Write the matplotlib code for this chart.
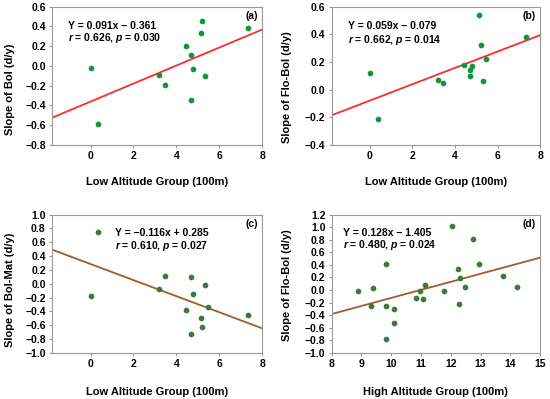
import numpy as np
import matplotlib
matplotlib.use("Agg")
import matplotlib.pyplot as plt

plt.rcParams['font.family'] = ['Liberation Sans', 'DejaVu Sans']
plt.rcParams['font.sans-serif'] = ['Liberation Sans', 'DejaVu Sans']
plt.rcParams['font.weight'] = 'bold'
plt.rcParams['mathtext.fontset'] = 'custom'
plt.rcParams['mathtext.bfit'] = 'Liberation Sans:italic:bold'

# panel (a) low altitude, Bol
a_x = [0.0, 0.37, 3.21, 3.45, 4.45, 4.70, 4.70, 4.79, 5.15, 5.19, 5.34, 7.36]
a_y = [-0.02, -0.59, -0.09, -0.19, 0.20, 0.11, -0.34, -0.03, 0.33, 0.45, -0.10, 0.38]

# panel (b) low altitude, Flo-Bol
b_x = [0.0, 0.36, 3.20, 3.45, 4.44, 4.69, 4.69, 4.80, 5.14, 5.20, 5.31, 5.45, 7.36]
b_y = [0.12, -0.21, 0.07, 0.05, 0.18, 0.14, 0.10, 0.17, 0.54, 0.32, 0.06, 0.22, 0.38]

# panel (c) low altitude, Bol-Mat
c_x = [0.03, 0.36, 3.20, 3.45, 4.45, 4.70, 4.70, 4.80, 5.14, 5.20, 5.33, 5.48, 7.36]
c_y = [-0.17, 0.75, -0.07, 0.11, -0.38, 0.10, -0.72, -0.15, -0.49, -0.63, -0.02, -0.33, -0.45]

# panel (d) high altitude, Flo-Bol
d_x = [8.87, 9.31, 9.38, 9.81, 9.81, 9.81, 10.11, 10.11, 10.83, 10.98, 11.07,
       11.15, 11.76, 12.04, 12.23, 12.30, 12.28, 12.48, 12.73, 12.96, 13.75, 14.22]
d_y = [-0.01, -0.26, 0.03, 0.42, -0.25, -0.77, -0.30, -0.52, -0.13, -0.02, -0.14,
       0.08, -0.02, 1.01, 0.33, 0.19, -0.22, 0.05, 0.81, 0.41, 0.22, 0.05]

fits = [(0.091, -0.361), (0.059, -0.079), (-0.116, 0.285), (0.128, -1.405)]
eqs = ["Y = 0.091x \u2212 0.361", "Y = 0.059x \u2212 0.079",
       "Y = \u22120.116x + 0.285", "Y = 0.128x \u2212 1.405"]
stats = ["$\\bfit{r}$ = 0.626, $\\bfit{p}$ = 0.030", "$\\bfit{r}$ = 0.662, $\\bfit{p}$ = 0.014",
         "$\\bfit{r}$ = 0.610, $\\bfit{p}$ = 0.027", "$\\bfit{r}$ = 0.480, $\\bfit{p}$ = 0.024"]
tags = ["(a)", "(b)", "(c)", "(d)"]
ylabels = ["Slope of Bol (d/y)", "Slope of Flo-Bol (d/y)",
           "Slope of Bol-Mat (d/y)", "Slope of Flo-Bol (d/y)"]
xlabels = ["Low Altitude Group (100m)"] * 3 + ["High Altitude Group (100m)"]

fig = plt.figure(figsize=(5.5, 3.99), dpi=100)
rects = [[0.0945, 0.6366, 0.382, 0.347], [0.603, 0.6366, 0.379, 0.347],
         [0.0945, 0.1153, 0.382, 0.347], [0.603, 0.1153, 0.379, 0.347]]
xlims = [(-1.8, 8), (-1.8, 8), (-1.8, 8), (8, 15)]
ylims = [(-0.8, 0.6), (-0.4, 0.6), (-1.0, 1.0), (-1.0, 1.2)]
xticks = [np.arange(0, 9, 2)] * 3 + [np.arange(8, 16, 1)]
dots = ['#13963a', '#13963a', '#3d7a3a', '#3d7a3a']
lines = ['#ff2a2a', '#ff2a2a', '#a55a2a', '#a55a2a']
txt_pos = [(0.076, 0.86, 0.77), (0.077, 0.86, 0.755), (0.30, 0.87, 0.776), (0.053, 0.87, 0.78)]
ylab_pos = [(-0.2, 0.40), (-0.216, 0.415), (-0.2, 0.455), (-0.216, 0.488)]
data = [(a_x, a_y), (b_x, b_y), (c_x, c_y), (d_x, d_y)]

for i in range(4):
    ax = fig.add_axes(rects[i])
    x, y = data[i]
    ax.scatter(x, y, s=17, color=dots[i], zorder=3, linewidths=0)
    xx = np.array(xlims[i])
    k, b = fits[i]
    ax.plot(xx, k * xx + b, color=lines[i], lw=1.3, zorder=2)
    ax.set_xlim(*xlims[i])
    ax.set_ylim(*ylims[i])
    ax.set_xticks(xticks[i])
    ax.set_yticks(np.round(np.arange(ylims[i][0], ylims[i][1] + 0.01, 0.2), 1))
    for sp in ax.spines.values():
        sp.set_color('#999999')
        sp.set_linewidth(0.8)
    ax.tick_params(direction='out', length=2.5, width=0.8, color='#999999',
                   labelsize=7.5, pad=2)
    for lab in ax.get_xticklabels() + ax.get_yticklabels():
        lab.set_fontweight('bold')
    ax.set_xlabel(xlabels[i], fontsize=8, fontweight='bold', va='center')
    ax.xaxis.set_label_coords(0.5, -0.27 if i < 2 else -0.28)
    ax.set_ylabel(ylabels[i], fontsize=8, fontweight='bold', va='center')
    ax.yaxis.set_label_coords(*ylab_pos[i])
    tx, ty1, ty2 = txt_pos[i]
    ax.text(tx, ty1, eqs[i], transform=ax.transAxes, fontsize=7.5,
            fontweight='bold', va='center')
    ax.text(tx, ty2, stats[i], transform=ax.transAxes, fontsize=7.5,
            fontweight='bold', va='center')
    ax.text(0.98, 0.93, tags[i], transform=ax.transAxes, fontsize=7.5,
            fontweight='bold', ha='right', va='center')

fig.savefig('out.png', dpi=100)
